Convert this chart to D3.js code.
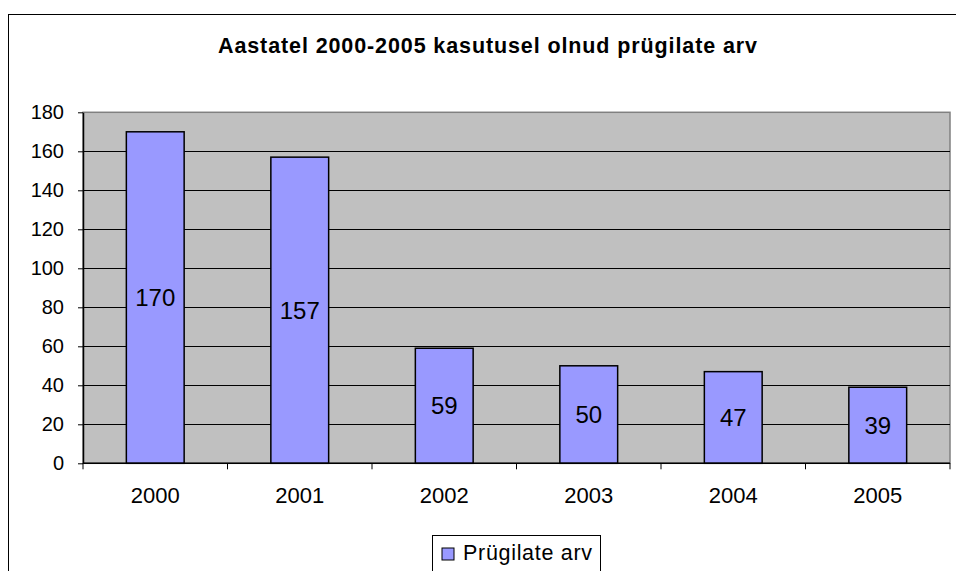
<!DOCTYPE html>
<html><head><meta charset="utf-8">
<script src="https://cdn.jsdelivr.net/npm/d3@7"></script>
<style>html,body{margin:0;padding:0;background:#fff;}svg{display:block;font-family:"Liberation Sans",Arial,sans-serif;}</style>
</head><body>
<svg id="c" width="956" height="571"></svg>
<script>
const categories = ["2000","2001","2002","2003","2004","2005"];
const values = [170,157,59,50,47,39];
const yTicks = [0,20,40,60,80,100,120,140,160,180];
const seriesName = "Prügilate arv";
const title = "Aastatel 2000-2005 kasutusel olnud prügilate arv";

const svg = d3.select("#c");
const L = 83, R = 950, T = 112.3, B = 463.3;

// outer chart border (extends off-canvas)
svg.append("rect").attr("x",8.5).attr("y",14.5).attr("width",1200).attr("height",1000)
  .attr("fill","#fff").attr("stroke","#000").attr("stroke-width",1);

svg.append("text").attr("x",218).attr("y",53)
  .attr("font-weight","bold").attr("font-size",21.5)
  .attr("textLength",539).attr("lengthAdjust","spacing").text(title);

const x = d3.scaleBand().domain(categories).range([L,R]).paddingInner(0.6).paddingOuter(0.3);
const y = d3.scaleLinear().domain([0,180]).range([B,T]);

// plot area
svg.append("rect").attr("x",L).attr("y",T).attr("width",R-L).attr("height",B-T)
  .attr("fill","#C0C0C0").attr("stroke","#808080").attr("stroke-width",1.5);

// gridlines
svg.append("g").selectAll("line").data(yTicks.filter(d=>d>0 && d<180)).join("line")
  .attr("x1",L).attr("x2",R).attr("y1",d=>Math.round(y(d))+0.5).attr("y2",d=>Math.round(y(d))+0.5)
  .attr("stroke","#000").attr("stroke-width",1);

// bars
svg.append("g").selectAll("rect").data(values).join("rect")
  .attr("x",(d,i)=>x(categories[i])).attr("width",x.bandwidth())
  .attr("y",d=>y(d)).attr("height",d=>B-y(d))
  .attr("fill","#9999FF").attr("stroke","#000").attr("stroke-width",1.5);

// value labels
svg.append("g").selectAll("text").data(values).join("text")
  .attr("x",(d,i)=>x(categories[i])+x.bandwidth()/2)
  .attr("y",d=>(y(d)+B)/2).attr("dy","0.35em")
  .attr("text-anchor","middle").attr("font-size",24).text(d=>d);

// y axis
const ya = svg.append("g").attr("transform",`translate(${L},0)`)
  .call(d3.axisLeft(y).tickValues(yTicks).tickSize(5).tickPadding(14).tickSizeOuter(0));
ya.select(".domain").attr("stroke","#000").attr("stroke-width",1.5);
ya.selectAll("text").attr("font-size",20).attr("font-family","Liberation Sans, Arial, sans-serif").attr("fill","#000");

// x axis line
svg.append("line").attr("x1",L).attr("x2",R).attr("y1",B).attr("y2",B).attr("stroke","#000").attr("stroke-width",1.5);
// x boundary ticks
const step = x.step();
const bounds = d3.range(categories.length+1).map(k=>L+k*step);
svg.append("g").selectAll("line").data(bounds).join("line")
  .attr("x1",d=>d).attr("x2",d=>d).attr("y1",B).attr("y2",B+6).attr("stroke","#000");
// x labels
svg.append("g").selectAll("text").data(categories).join("text")
  .attr("x",d=>x(d)+x.bandwidth()/2).attr("y",503).attr("text-anchor","middle")
  .attr("font-size",22).text(d=>d);

// legend
const lg = svg.append("g");
lg.append("rect").attr("x",432.5).attr("y",535.5).attr("width",168).attr("height",60)
  .attr("fill","#fff").attr("stroke","#000");
lg.append("rect").attr("x",442).attr("y",548).attr("width",12).attr("height",12)
  .attr("fill","#9999FF").attr("stroke","#000");
lg.append("text").attr("x",463).attr("y",560).attr("font-size",21.5)
  .attr("textLength",129).attr("lengthAdjust","spacing").text(seriesName);
</script>
</body></html>
